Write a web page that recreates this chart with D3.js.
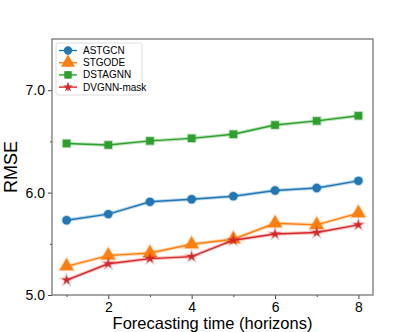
<!DOCTYPE html>
<html>
<head>
<meta charset="utf-8">
<script src="https://cdn.jsdelivr.net/npm/d3@7"></script>
<style>
	body { margin: 0; background: #fff; }
	text { font-family: "Liberation Sans", Arial, sans-serif; }
</style>
</head>
<body>
<div id="chart"></div>
<script>
var horizons = [1, 2, 3, 4, 5, 6, 7, 8];
var astgcn = [5.73, 5.79, 5.91, 5.935, 5.965, 6.02, 6.045, 6.115];
var stgode = [5.28, 5.385, 5.41, 5.495, 5.545, 5.70, 5.685, 5.80];
var dstagnn = [6.48, 6.465, 6.505, 6.53, 6.57, 6.66, 6.70, 6.75];
var dvgnn = [5.145, 5.305, 5.355, 5.375, 5.535, 5.595, 5.61, 5.685];
var seriesNames = ["ASTGCN", "STGODE", "DSTAGNN", "DVGNN-mask"];
var yTicks = [5.0, 6.0, 7.0];
var xTicks = [2, 4, 6, 8];

var series = [
	{ name: seriesNames[0], values: astgcn, color: "#1f77b4", symbol: d3.symbolCircle, size: 55 },
	{ name: seriesNames[1], values: stgode, color: "#ff7f0e", symbol: d3.symbolTriangle, size: 85 },
	{ name: seriesNames[2], values: dstagnn, color: "#2ca02c", symbol: d3.symbolSquare, size: 56 },
	{ name: seriesNames[3], values: dvgnn, color: "#d62728", symbol: d3.symbolStar, size: 28 }
];

//SVG setup
var margin = { top: 39, right: 42, bottom: 37, left: 52 };
var width = 415 - margin.left - margin.right;
var height = 332 - margin.top - margin.bottom;

var svg = d3.select("#chart")
	.append("svg")
	.attr("width", 415)
	.attr("height", 332)
	.append("g")
	.attr("transform", "translate(" + margin.left + "," + margin.top + ")");

//Scales
var x = d3.scaleLinear().domain([0.65, 8.35]).range([0, width]);
var y = d3.scaleLinear().domain([5.0, 7.5]).range([height, 0]);

//Axes
svg.append("g")
	.attr("transform", "translate(0," + height + ")")
	.call(d3.axisBottom(x).tickValues(xTicks).tickFormat(d3.format("d")).tickSize(4).tickPadding(3));
svg.append("g")
	.attr("transform", "translate(0," + height + ")")
	.call(d3.axisBottom(x).tickValues([1, 3, 5, 7]).tickFormat("").tickSize(2));

svg.append("g")
	.call(d3.axisLeft(y).tickValues(yTicks).tickFormat(d3.format(".1f")).tickSize(4).tickPadding(3));
svg.append("g")
	.call(d3.axisLeft(y).tickValues([5.5, 6.5]).tickFormat("").tickSize(2));

svg.selectAll(".domain").remove();
svg.selectAll(".tick line").attr("stroke", "#444");
svg.selectAll(".tick text").attr("font-size", 14).attr("fill", "#000");

//Frame
svg.append("rect")
	.attr("width", width)
	.attr("height", height)
	.attr("fill", "none")
	.attr("stroke", "#6a6a6a")
	.attr("stroke-width", 1.2);

//Labels
svg.append("text")
	.attr("transform", "rotate(-90)")
	.attr("x", -height / 2)
	.attr("y", -35)
	.attr("text-anchor", "middle")
	.attr("font-size", 18)
	.text("RMSE");

svg.append("text")
	.attr("x", width / 2)
	.attr("y", height + 34)
	.attr("text-anchor", "middle")
	.attr("font-size", 16.5)
	.text("Forecasting time (horizons)");

//Lines and markers
var line = d3.line()
	.x(function(d, i) { return x(horizons[i]); })
	.y(function(d) { return y(d); });

series.forEach(function(s) {
	var g = svg.append("g");
	g.append("path")
		.attr("d", line(s.values))
		.attr("fill", "none")
		.attr("stroke", s.color)
		.attr("stroke-opacity", 0.3)
		.attr("stroke-width", 3.5);
	g.append("path")
		.attr("d", line(s.values))
		.attr("fill", "none")
		.attr("stroke", s.color)
		.attr("stroke-width", 1.4);
	g.selectAll("path.pt")
		.data(s.values)
		.enter()
		.append("path")
		.attr("class", "pt")
		.attr("transform", function(d, i) { return "translate(" + x(horizons[i]) + "," + y(d) + ")"; })
		.attr("d", d3.symbol().type(s.symbol).size(s.size))
		.attr("fill", s.color)
		.attr("stroke", s.color)
		.attr("stroke-opacity", 0.3)
		.attr("stroke-width", 2);
});

//Legend
var legend = svg.append("g").attr("transform", "translate(4,4)");
legend.append("rect")
	.attr("width", 86)
	.attr("height", 52)
	.attr("rx", 2)
	.attr("fill", "#fff")
	.attr("fill-opacity", 0.8)
	.attr("stroke", "#ddd");

var item = legend.selectAll(".item")
	.data(series)
	.enter()
	.append("g")
	.attr("class", "item")
	.attr("transform", function(d, i) { return "translate(0," + (7.5 + i * 12.2) + ")"; });
item.append("line")
	.attr("x1", 3).attr("x2", 21)
	.attr("stroke", function(d) { return d.color; })
	.attr("stroke-width", 1.4);
item.append("line")
	.attr("x1", 12).attr("x2", 12).attr("y1", -4).attr("y2", 4)
	.attr("stroke", function(d) { return d.color; })
	.attr("stroke-width", 1);
item.append("path")
	.attr("transform", "translate(12,0)")
	.attr("d", function(d) { return d3.symbol().type(d.symbol).size(d.size)(); })
	.attr("fill", function(d) { return d.color; });
item.append("text")
	.attr("x", 27)
	.attr("y", 3.5)
	.attr("font-size", 10)
	.text(function(d) { return d.name; });
</script>
</body>
</html>
